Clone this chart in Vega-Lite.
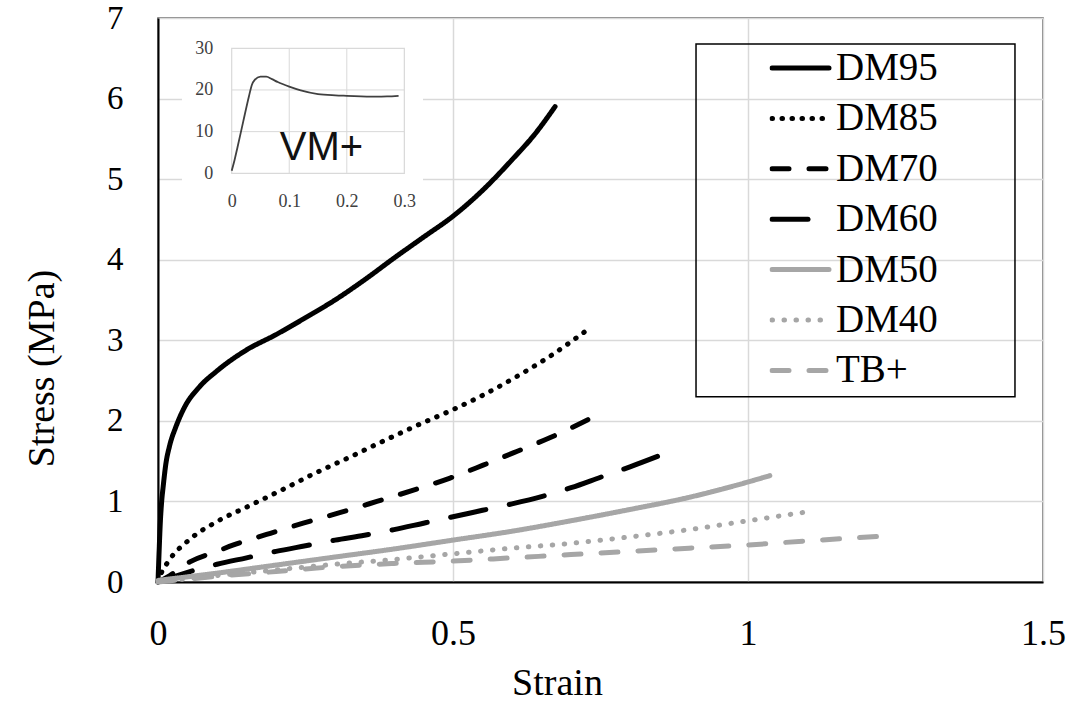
{
  "$schema": "https://vega.github.io/schema/vega-lite/v6.json",
  "width": 885,
  "height": 564,
  "autosize": {"type": "none"},
  "padding": {"left": 158, "top": 18, "right": 33, "bottom": 122},
  "background": "white",
  "config": {
    "view": {"stroke": "#595959", "strokeWidth": 1.5},
    "font": "Liberation Serif",
    "axis": {
      "labelFont": "Liberation Serif",
      "titleFont": "Liberation Serif",
      "labelColor": "#000000",
      "titleColor": "#000000",
      "titleFontWeight": "normal",
      "ticks": false,
      "tickSize": 0,
      "gridColor": "#d9d9d9",
      "gridWidth": 1.5,
      "domainColor": "#000000",
      "domainWidth": 2
    },
    "legend": {
      "orient": "none",
      "legendX": 611.5,
      "legendY": 30,
      "padding": 0,
      "symbolType": "stroke",
      "symbolSize": 3249,
      "symbolStrokeWidth": 5,
      "labelFont": "Liberation Serif",
      "labelFontSize": 39,
      "labelColor": "#000000",
      "labelOffset": 4.5,
      "clipHeight": 40,
      "rowPadding": 10.4,
      "labelLimit": 300
    }
  },
  "datasets": {
    "curves": [
      {"s": "DM95", "strain": 0, "stress": 0},
      {"s": "DM95", "strain": 0.002, "stress": 0.4},
      {"s": "DM95", "strain": 0.004, "stress": 0.75},
      {"s": "DM95", "strain": 0.006, "stress": 0.98},
      {"s": "DM95", "strain": 0.009, "stress": 1.2},
      {"s": "DM95", "strain": 0.013, "stress": 1.45},
      {"s": "DM95", "strain": 0.02, "stress": 1.7},
      {"s": "DM95", "strain": 0.03, "stress": 1.92},
      {"s": "DM95", "strain": 0.045, "stress": 2.17},
      {"s": "DM95", "strain": 0.07, "stress": 2.42},
      {"s": "DM95", "strain": 0.1, "stress": 2.62},
      {"s": "DM95", "strain": 0.15, "stress": 2.88},
      {"s": "DM95", "strain": 0.2, "stress": 3.07},
      {"s": "DM95", "strain": 0.25, "stress": 3.28},
      {"s": "DM95", "strain": 0.3, "stress": 3.5},
      {"s": "DM95", "strain": 0.35, "stress": 3.75},
      {"s": "DM95", "strain": 0.4, "stress": 4.02},
      {"s": "DM95", "strain": 0.45, "stress": 4.28},
      {"s": "DM95", "strain": 0.5, "stress": 4.54},
      {"s": "DM95", "strain": 0.55, "stress": 4.86},
      {"s": "DM95", "strain": 0.6, "stress": 5.24},
      {"s": "DM95", "strain": 0.64, "stress": 5.57},
      {"s": "DM95", "strain": 0.673, "stress": 5.9},
      {"s": "DM85", "strain": 0, "stress": 0},
      {"s": "DM85", "strain": 0.005, "stress": 0.1},
      {"s": "DM85", "strain": 0.017, "stress": 0.25},
      {"s": "DM85", "strain": 0.054, "stress": 0.53},
      {"s": "DM85", "strain": 0.1, "stress": 0.75},
      {"s": "DM85", "strain": 0.156, "stress": 0.95},
      {"s": "DM85", "strain": 0.212, "stress": 1.15},
      {"s": "DM85", "strain": 0.269, "stress": 1.36},
      {"s": "DM85", "strain": 0.325, "stress": 1.55},
      {"s": "DM85", "strain": 0.382, "stress": 1.75},
      {"s": "DM85", "strain": 0.438, "stress": 1.94},
      {"s": "DM85", "strain": 0.5, "stress": 2.14},
      {"s": "DM85", "strain": 0.551, "stress": 2.32},
      {"s": "DM85", "strain": 0.608, "stress": 2.55},
      {"s": "DM85", "strain": 0.664, "stress": 2.8},
      {"s": "DM85", "strain": 0.724, "stress": 3.11},
      {"s": "DM70", "strain": 0, "stress": 0},
      {"s": "DM70", "strain": 0.02, "stress": 0.08},
      {"s": "DM70", "strain": 0.054, "stress": 0.25},
      {"s": "DM70", "strain": 0.1, "stress": 0.38},
      {"s": "DM70", "strain": 0.128, "stress": 0.46},
      {"s": "DM70", "strain": 0.184, "stress": 0.59},
      {"s": "DM70", "strain": 0.246, "stress": 0.73},
      {"s": "DM70", "strain": 0.308, "stress": 0.86},
      {"s": "DM70", "strain": 0.371, "stress": 1.0},
      {"s": "DM70", "strain": 0.433, "stress": 1.14},
      {"s": "DM70", "strain": 0.495, "stress": 1.29},
      {"s": "DM70", "strain": 0.551, "stress": 1.45},
      {"s": "DM70", "strain": 0.608, "stress": 1.62},
      {"s": "DM70", "strain": 0.664, "stress": 1.79},
      {"s": "DM70", "strain": 0.741, "stress": 2.06},
      {"s": "DM60", "strain": 0, "stress": 0},
      {"s": "DM60", "strain": 0.05, "stress": 0.12},
      {"s": "DM60", "strain": 0.1, "stress": 0.22},
      {"s": "DM60", "strain": 0.15, "stress": 0.3},
      {"s": "DM60", "strain": 0.2, "stress": 0.38},
      {"s": "DM60", "strain": 0.25, "stress": 0.45},
      {"s": "DM60", "strain": 0.3, "stress": 0.52},
      {"s": "DM60", "strain": 0.35, "stress": 0.58},
      {"s": "DM60", "strain": 0.4, "stress": 0.65},
      {"s": "DM60", "strain": 0.45, "stress": 0.73},
      {"s": "DM60", "strain": 0.5, "stress": 0.81},
      {"s": "DM60", "strain": 0.55, "stress": 0.89},
      {"s": "DM60", "strain": 0.6, "stress": 0.97},
      {"s": "DM60", "strain": 0.65, "stress": 1.06},
      {"s": "DM60", "strain": 0.7, "stress": 1.17},
      {"s": "DM60", "strain": 0.75, "stress": 1.3},
      {"s": "DM60", "strain": 0.8, "stress": 1.43},
      {"s": "DM60", "strain": 0.854, "stress": 1.58},
      {"s": "DM50", "strain": 0, "stress": 0.02},
      {"s": "DM50", "strain": 0.1, "stress": 0.11},
      {"s": "DM50", "strain": 0.2, "stress": 0.21},
      {"s": "DM50", "strain": 0.3, "stress": 0.31},
      {"s": "DM50", "strain": 0.4, "stress": 0.41},
      {"s": "DM50", "strain": 0.5, "stress": 0.52},
      {"s": "DM50", "strain": 0.6, "stress": 0.63},
      {"s": "DM50", "strain": 0.7, "stress": 0.76},
      {"s": "DM50", "strain": 0.8, "stress": 0.9},
      {"s": "DM50", "strain": 0.9, "stress": 1.05},
      {"s": "DM50", "strain": 0.97, "stress": 1.18},
      {"s": "DM50", "strain": 1.037, "stress": 1.32},
      {"s": "DM40", "strain": 0, "stress": 0},
      {"s": "DM40", "strain": 0.1, "stress": 0.08},
      {"s": "DM40", "strain": 0.2, "stress": 0.15},
      {"s": "DM40", "strain": 0.3, "stress": 0.22},
      {"s": "DM40", "strain": 0.4, "stress": 0.28},
      {"s": "DM40", "strain": 0.5, "stress": 0.35},
      {"s": "DM40", "strain": 0.6, "stress": 0.42},
      {"s": "DM40", "strain": 0.7, "stress": 0.48},
      {"s": "DM40", "strain": 0.8, "stress": 0.56},
      {"s": "DM40", "strain": 0.9, "stress": 0.65},
      {"s": "DM40", "strain": 1.0, "stress": 0.76},
      {"s": "DM40", "strain": 1.1, "stress": 0.87},
      {"s": "TB+", "strain": 0, "stress": 0},
      {"s": "TB+", "strain": 0.1, "stress": 0.07},
      {"s": "TB+", "strain": 0.2, "stress": 0.13},
      {"s": "TB+", "strain": 0.3, "stress": 0.19},
      {"s": "TB+", "strain": 0.4, "stress": 0.23},
      {"s": "TB+", "strain": 0.5, "stress": 0.26},
      {"s": "TB+", "strain": 0.6, "stress": 0.3},
      {"s": "TB+", "strain": 0.7, "stress": 0.34},
      {"s": "TB+", "strain": 0.8, "stress": 0.38},
      {"s": "TB+", "strain": 0.9, "stress": 0.42},
      {"s": "TB+", "strain": 1.0, "stress": 0.46},
      {"s": "TB+", "strain": 1.1, "stress": 0.51},
      {"s": "TB+", "strain": 1.232, "stress": 0.57}
    ],
    "vm": [
      {"strain": 0, "stress": 0.6},
      {"strain": 0.005, "stress": 3.2},
      {"strain": 0.01, "stress": 6.2},
      {"strain": 0.02, "stress": 12.4},
      {"strain": 0.03, "stress": 18.5},
      {"strain": 0.035, "stress": 21.2},
      {"strain": 0.04, "stress": 22.4},
      {"strain": 0.05, "stress": 23.2},
      {"strain": 0.06, "stress": 23.2},
      {"strain": 0.07, "stress": 22.6},
      {"strain": 0.08, "stress": 21.9},
      {"strain": 0.1, "stress": 20.8},
      {"strain": 0.12, "stress": 19.9},
      {"strain": 0.15, "stress": 19.0},
      {"strain": 0.18, "stress": 18.7},
      {"strain": 0.2, "stress": 18.6},
      {"strain": 0.25, "stress": 18.4},
      {"strain": 0.27, "stress": 18.45},
      {"strain": 0.29, "stress": 18.6}
    ]
  },
  "resolve": {"scale": {"x": "independent", "y": "independent"}},
  "layer": [
    {
      "data": {"values": [{"k": "bg"}]},
      "mark": {"type": "rect", "fill": "white", "stroke": null},
      "encoding": {
        "x": {"datum": -0.0864, "type": "quantitative", "scale": {"domain": [-0.12806, 1.40973], "nice": false, "zero": false}, "axis": null},
        "x2": {"datum": 0.3324},
        "y": {"datum": -10, "type": "quantitative", "scale": {"domain": [-98.09, 37.27], "nice": false, "zero": false}, "axis": null},
        "y2": {"datum": 35.6}
      }
    },
    {
      "data": {"values": [{"g": 0.1}, {"g": 0.2}]},
      "mark": {"type": "rule", "stroke": "#d9d9d9", "strokeWidth": 1},
      "encoding": {
        "x": {"field": "g", "type": "quantitative", "scale": {"domain": [-0.12806, 1.40973], "nice": false, "zero": false}, "axis": null},
        "y": {"datum": 0, "type": "quantitative", "scale": {"domain": [-98.09, 37.27], "nice": false, "zero": false}, "axis": null},
        "y2": {"datum": 30}
      }
    },
    {
      "data": {"values": [{"g": 10}, {"g": 20}]},
      "mark": {"type": "rule", "stroke": "#d9d9d9", "strokeWidth": 1},
      "encoding": {
        "y": {"field": "g", "type": "quantitative", "scale": {"domain": [-98.09, 37.27], "nice": false, "zero": false}, "axis": null},
        "x": {"datum": 0, "type": "quantitative", "scale": {"domain": [-0.12806, 1.40973], "nice": false, "zero": false}, "axis": null},
        "x2": {"datum": 0.3}
      }
    },
    {
      "data": {"values": [{"k": "frame"}]},
      "mark": {"type": "rect", "filled": false, "stroke": "#d9d9d9", "strokeWidth": 1.2},
      "encoding": {
        "x": {"datum": 0, "type": "quantitative", "scale": {"domain": [-0.12806, 1.40973], "nice": false, "zero": false}, "axis": null},
        "x2": {"datum": 0.3},
        "y": {"datum": 0, "type": "quantitative", "scale": {"domain": [-98.09, 37.27], "nice": false, "zero": false}, "axis": null},
        "y2": {"datum": 30}
      }
    },
    {
      "data": {"name": "vm"},
      "mark": {"type": "line", "stroke": "#404040", "strokeWidth": 1.8, "interpolate": "monotone"},
      "encoding": {
        "x": {
          "field": "strain", "type": "quantitative",
          "scale": {"domain": [-0.12806, 1.40973], "nice": false, "zero": false},
          "axis": {
            "orient": "bottom", "offset": -408.7, "values": [0, 0.1, 0.2, 0.3],
            "domain": false, "grid": false, "title": null, "labelFontSize": 18,
            "labelColor": "#404040", "labelPadding": 19, "labelFlush": false, "zindex": 1, "format": "~g"
          }
        },
        "y": {
          "field": "stress", "type": "quantitative",
          "scale": {"domain": [-98.09, 37.27], "nice": false, "zero": false},
          "axis": {
            "orient": "left", "offset": -73.7, "values": [0, 10, 20, 30],
            "domain": false, "grid": false, "title": null, "labelFontSize": 18,
            "labelColor": "#404040", "labelPadding": 19, "labelFlush": false, "zindex": 1
          }
        }
      }
    },
    {
      "data": {"values": [{"t": "VM+"}]},
      "mark": {"type": "text", "font": "Liberation Sans", "fontSize": 40, "align": "center", "baseline": "alphabetic", "color": "#111111"},
      "encoding": {
        "text": {"field": "t"},
        "x": {"datum": 0.156, "type": "quantitative", "scale": {"domain": [-0.12806, 1.40973], "nice": false, "zero": false}, "axis": null},
        "y": {"datum": 3.2, "type": "quantitative", "scale": {"domain": [-98.09, 37.27], "nice": false, "zero": false}, "axis": null}
      }
    },
    {
      "data": {"values": [{"k": "legendbox"}]},
      "mark": {"type": "rect", "filled": false, "stroke": "#000000", "strokeWidth": 1.5},
      "encoding": {
        "x": {"datum": 0.9119, "type": "quantitative", "scale": {"domain": [0, 1.5], "nice": false, "zero": false}, "axis": null},
        "x2": {"datum": 1.4525},
        "y": {"datum": 6.677, "type": "quantitative", "scale": {"domain": [0, 7], "nice": false, "zero": false}, "axis": null},
        "y2": {"datum": 2.3}
      }
    },
    {
      "data": {"name": "curves"},
      "mark": {"type": "line", "strokeWidth": 5, "strokeCap": "round", "strokeJoin": "round", "interpolate": "monotone"},
      "encoding": {
        "x": {
          "field": "strain", "type": "quantitative",
          "scale": {"domain": [0, 1.5], "nice": false, "zero": false},
          "axis": {
            "orient": "bottom", "title": "Strain", "values": [0, 0.5, 1, 1.5], "format": "~g", "grid": true,
            "labelFontSize": 36, "labelPadding": 34, "labelFlush": false,
            "titleFontSize": 38, "titleX": 399, "titleY": 101, "titleBaseline": "middle", "titleAlign": "center"
          }
        },
        "y": {
          "field": "stress", "type": "quantitative",
          "scale": {"domain": [0, 7], "nice": false, "zero": false},
          "axis": {
            "orient": "left", "title": "Stress (MPa)", "values": [0, 1, 2, 3, 4, 5, 6, 7], "format": "d", "grid": true,
            "labelFontSize": 33, "labelPadding": 35, "labelFlush": false,
            "titleFontSize": 38, "titleX": -116, "titleY": 350, "titleBaseline": "middle", "titleAlign": "center", "titleAngle": -90
          }
        },
        "color": {
          "field": "s", "type": "nominal", "title": null,
          "scale": {
            "domain": ["DM95", "DM85", "DM70", "DM60", "DM50", "DM40", "TB+"],
            "range": ["#000000", "#000000", "#000000", "#000000", "#a6a6a6", "#a6a6a6", "#a6a6a6"]
          },
          "legend": {"encoding": {"symbols": {"strokeCap": {"value": "round"}}}}
        },
        "strokeDash": {
          "field": "s", "type": "nominal", "title": null,
          "scale": {
            "domain": ["DM95", "DM85", "DM70", "DM60", "DM50", "DM40", "TB+"],
            "range": [[1, 0], [0.5, 9.5], [17, 20], [36, 24], [1, 0], [0.5, 11.5], [17, 20]]
          },
          "legend": {"encoding": {"symbols": {"strokeCap": {"value": "round"}}}}
        }
      }
    }
  ]
}
